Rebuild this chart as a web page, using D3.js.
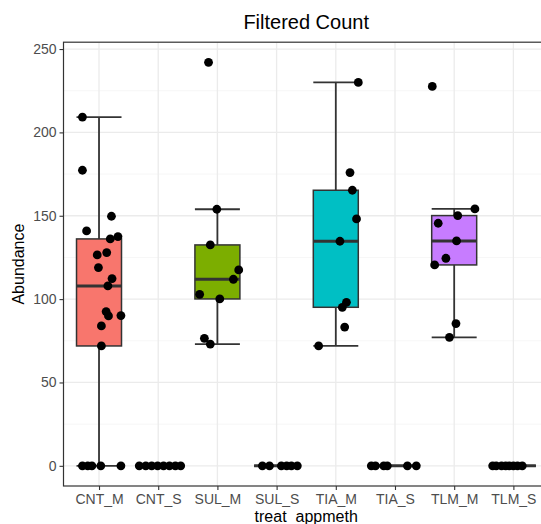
<!DOCTYPE html>
<html>
<head>
<meta charset="utf-8">
<script src="https://cdn.jsdelivr.net/npm/d3@7"></script>
<style>
  body { margin: 0; background: #fff; }
  text { font-family: "Liberation Sans", Arial, sans-serif; }
</style>
</head>
<body>
<div id="chart"></div>
<script>
// groups on the x axis and their treatment (fill colour)
const groups = ["CNT_M", "CNT_S", "SUL_M", "SUL_S", "TIA_M", "TIA_S", "TLM_M", "TLM_S"];
const treats = ["CNT", "CNT", "SUL", "SUL", "TIA", "TIA", "TLM", "TLM"];
const treatColors = ["#F8766D", "#7CAE00", "#00BFC4", "#C77CFF"];
const yTicks = [0, 50, 100, 150, 200, 250];

// abundance values per group
const cntM = [209.2, 177.3, 149.7, 140.9, 136.1, 137.5, 126.5, 127.9, 118.9, 112.3, 107.9, 92.5, 89.9, 90.1, 83.9, 71.9, 0, 0, 0, 0, 0];
const cntS = [0, 0, 0, 0, 0, 0, 0, 0];
const sulM = [242, 153.9, 132.5, 102.9, 100.1, 76.5, 73, 117.5, 111.9];
const sulS = [0, 0, 0, 0, 0, 0];
const tiaM = [230, 175.9, 165.3, 148.1, 134.7, 98.1, 95.1, 83.2, 71.9];
const tiaS = [0, 0, 0, 0, 0, 0];
const tlmM = [227.6, 154.1, 150.1, 145.5, 134.9, 124.5, 120.5, 85.3, 77.1];
const tlmS = [0, 0, 0, 0, 0, 0, 0, 0];

// horizontal jitter of each point, in category steps (as seen in the picture)
const cntMJit = [-0.28, -0.28, 0.21, -0.21, 0.19, 0.32, -0.03, 0.13, -0.01, 0.22, 0.15, 0.12, 0.16, 0.37, 0.04, 0.04, -0.28, -0.19, -0.12, 0.03, 0.37];
const cntSJit = [-0.32, -0.21, -0.11, -0.01, 0.09, 0.19, 0.29, 0.38];
const sulMJit = [-0.15, -0.01, -0.12, -0.30, 0.04, -0.22, -0.12, 0.36, 0.27];
const sulSJit = [-0.24, -0.12, 0.08, 0.17, 0.25, 0.35];
const tiaMJit = [0.38, 0.24, 0.28, 0.35, 0.07, 0.18, 0.11, 0.15, -0.29];
const tiaSJit = [-0.4, -0.33, -0.19, -0.13, 0.21, 0.36];
const tlmMJit = [-0.37, 0.35, 0.06, -0.27, 0.04, -0.14, -0.33, 0.03, -0.08];
const tlmSJit = [-0.35, -0.29, -0.20, -0.13, -0.07, 0.00, 0.07, 0.15];

const values = [cntM, cntS, sulM, sulS, tiaM, tiaS, tlmM, tlmS];
const jitters = [cntMJit, cntSJit, sulMJit, sulSJit, tiaMJit, tiaSJit, tlmMJit, tlmSJit];

const width = 541, height = 524;
const margin = {top: 42.2, right: -7.9, bottom: 38, left: 63.5};

const svg = d3.select("#chart").append("svg")
	.attr("width", width)
	.attr("height", height);

const x = d3.scalePoint()
	.domain(groups)
	.range([margin.left, width - margin.right])
	.padding(0.6);

const all = values.flat();
const ext = d3.extent(all);
const pad = (ext[1] - ext[0]) * 0.05;
const y = d3.scaleLinear()
	.domain([ext[0] - pad, ext[1] + pad])
	.range([height - margin.bottom, margin.top]);

const fill = d3.scaleOrdinal().domain(["CNT", "SUL", "TIA", "TLM"]).range(treatColors);

const clip = svg.append("clipPath").attr("id", "panel")
	.append("rect")
	.attr("x", margin.left).attr("y", margin.top)
	.attr("width", width - margin.right - margin.left)
	.attr("height", height - margin.bottom - margin.top);

const panel = svg.append("g").attr("clip-path", "url(#panel)");

// grid
const minor = d3.range(25, 250, 50);
panel.append("g").selectAll("line").data(minor).enter().append("line")
	.attr("x1", margin.left).attr("x2", width - margin.right)
	.attr("y1", d => y(d)).attr("y2", d => y(d))
	.attr("stroke", "#F2F2F2").attr("stroke-width", 0.7);
panel.append("g").selectAll("line").data(yTicks).enter().append("line")
	.attr("x1", margin.left).attr("x2", width - margin.right)
	.attr("y1", d => y(d)).attr("y2", d => y(d))
	.attr("stroke", "#EBEBEB").attr("stroke-width", 1.3);
panel.append("g").selectAll("line").data(groups).enter().append("line")
	.attr("x1", d => x(d)).attr("x2", d => x(d))
	.attr("y1", margin.top).attr("y2", height - margin.bottom)
	.attr("stroke", "#EBEBEB").attr("stroke-width", 1.3);

// box stats
const stats = values.map((v, i) => {
	const s = v.slice().sort(d3.ascending);
	const q1 = d3.quantile(s, 0.25), med = d3.quantile(s, 0.5), q3 = d3.quantile(s, 0.75);
	const iqr = q3 - q1;
	const lo = d3.min(s.filter(d => d >= q1 - 1.5 * iqr));
	const hi = d3.max(s.filter(d => d <= q3 + 1.5 * iqr));
	return {group: groups[i], treat: treats[i], q1, med, q3, lo, hi};
});

const bw = x.step() * 0.76;
const ink = "#333333";

// errorbar whiskers
const eb = panel.append("g").selectAll("g").data(stats).enter().append("g");
eb.append("line")
	.attr("x1", d => x(d.group)).attr("x2", d => x(d.group))
	.attr("y1", d => y(d.lo)).attr("y2", d => y(d.hi))
	.attr("stroke", ink).attr("stroke-width", 1.8);
eb.append("line")
	.attr("x1", d => x(d.group) - bw / 2).attr("x2", d => x(d.group) + bw / 2)
	.attr("y1", d => y(d.lo)).attr("y2", d => y(d.lo))
	.attr("stroke", ink).attr("stroke-width", 1.8);
eb.append("line")
	.attr("x1", d => x(d.group) - bw / 2).attr("x2", d => x(d.group) + bw / 2)
	.attr("y1", d => y(d.hi)).attr("y2", d => y(d.hi))
	.attr("stroke", ink).attr("stroke-width", 1.8);

// boxes
const bx = panel.append("g").selectAll("g").data(stats).enter().append("g");
bx.append("rect")
	.attr("x", d => x(d.group) - bw / 2)
	.attr("y", d => y(d.q3))
	.attr("width", bw)
	.attr("height", d => y(d.q1) - y(d.q3))
	.attr("fill", d => fill(d.treat))
	.attr("stroke", ink).attr("stroke-width", 1.5);
bx.append("line")
	.attr("x1", d => x(d.group) - bw / 2).attr("x2", d => x(d.group) + bw / 2)
	.attr("y1", d => y(d.med)).attr("y2", d => y(d.med))
	.attr("stroke", ink).attr("stroke-width", 3);

// jittered points
const pts = [];
values.forEach((v, i) => v.forEach((val, j) => pts.push({group: groups[i], value: val, jit: jitters[i][j]})));
panel.append("g").selectAll("circle").data(pts).enter().append("circle")
	.attr("cx", d => x(d.group) + d.jit * x.step())
	.attr("cy", d => y(d.value))
	.attr("r", 4.4)
	.attr("fill", "#000");

// panel border
svg.append("rect")
	.attr("x", margin.left).attr("y", margin.top)
	.attr("width", width - margin.right - margin.left)
	.attr("height", height - margin.bottom - margin.top)
	.attr("fill", "none").attr("stroke", ink).attr("stroke-width", 1.2);

// axes
const yAxis = svg.append("g")
	.attr("transform", `translate(${margin.left},0)`)
	.call(d3.axisLeft(y).tickValues(yTicks).tickSize(4).tickPadding(3));
const xAxis = svg.append("g")
	.attr("transform", `translate(0,${height - margin.bottom})`)
	.call(d3.axisBottom(x).tickSize(4).tickPadding(4));
[yAxis, xAxis].forEach(g => {
	g.select(".domain").remove();
	g.selectAll(".tick line").attr("stroke", ink).attr("stroke-width", 1.1);
	g.selectAll(".tick text")
		.attr("fill", "#4D4D4D")
		.style("font-size", "14px")
		.style("font-family", "'Liberation Sans', Arial, sans-serif");
});

svg.append("text")
	.attr("x", (margin.left + width - margin.right) / 2)
	.attr("y", 29)
	.attr("text-anchor", "middle")
	.style("font-size", "20px")
	.text("Filtered Count");

svg.append("text")
	.attr("x", (margin.left + width - margin.right) / 2)
	.attr("y", 522)
	.attr("text-anchor", "middle")
	.style("font-size", "16px")
	.text("treat_appmeth");

svg.append("text")
	.attr("transform", `translate(24,${(margin.top + height - margin.bottom) / 2}) rotate(-90)`)
	.attr("text-anchor", "middle")
	.style("font-size", "16px")
	.text("Abundance");
</script>
</body>
</html>
